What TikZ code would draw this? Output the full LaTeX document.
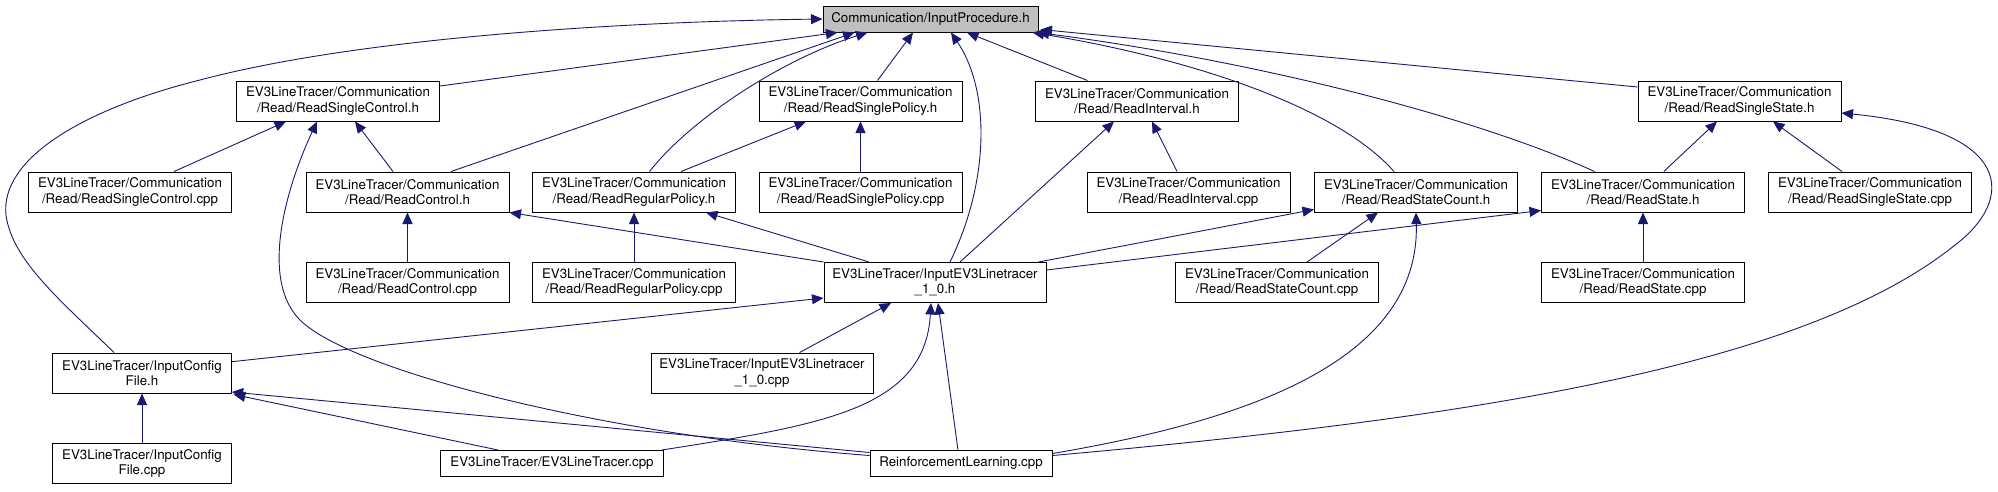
\documentclass[tikz,border=0pt]{standalone}
\usepackage{fontspec}
\setmainfont{TeX Gyre Heros}
\usetikzlibrary{arrows.meta,calc}
\definecolor{edgec}{HTML}{191970}
\definecolor{hl}{HTML}{BFBFBF}
\tikzset{
 box/.style={draw=black,fill=white,line width=1pt,inner sep=0pt,align=center,
   font=\fontsize{13.33}{15.6}\selectfont,minimum height=40pt,minimum width=203pt},
 one/.style={minimum height=26pt},
 edge/.style={draw=edgec,line width=0.9pt,-{Triangle[length=11.5pt,width=10pt]}}
}
\begin{document}
\begin{tikzpicture}[x=1pt,y=-1pt]
\useasboundingbox (0,0) rectangle (1998,491);
% nodes
\node[box,one,minimum width=215pt,fill=hl] (IP) at (930.5,19) {Communication/InputProcedure.h};
\node[box] (RSCh) at (338,101) {EV3LineTracer/Communication\\/Read/ReadSingleControl.h};
\node[box] (RSPh) at (860.5,101) {EV3LineTracer/Communication\\/Read/ReadSinglePolicy.h};
\node[box] (RIh) at (1137,101) {EV3LineTracer/Communication\\/Read/ReadInterval.h};
\node[box] (RSSh) at (1739.5,101) {EV3LineTracer/Communication\\/Read/ReadSingleState.h};
\node[box] (RSCcpp) at (130,192) {EV3LineTracer/Communication\\/Read/ReadSingleControl.cpp};
\node[box] (RCh) at (407.5,192) {EV3LineTracer/Communication\\/Read/ReadControl.h};
\node[box] (RRPh) at (634,192) {EV3LineTracer/Communication\\/Read/ReadRegularPolicy.h};
\node[box] (RSPcpp) at (860.5,192) {EV3LineTracer/Communication\\/Read/ReadSinglePolicy.cpp};
\node[box] (RIcpp) at (1188.5,192) {EV3LineTracer/Communication\\/Read/ReadInterval.cpp};
\node[box] (RSCth) at (1416,192) {EV3LineTracer/Communication\\/Read/ReadStateCount.h};
\node[box] (RSh) at (1643,192) {EV3LineTracer/Communication\\/Read/ReadState.h};
\node[box] (RSScpp) at (1870,192) {EV3LineTracer/Communication\\/Read/ReadSingleState.cpp};
\node[box] (RCcpp) at (407.5,282.5) {EV3LineTracer/Communication\\/Read/ReadControl.cpp};
\node[box] (RRPcpp) at (634,282.5) {EV3LineTracer/Communication\\/Read/ReadRegularPolicy.cpp};
\node[box,minimum width=222pt] (IEh) at (935,282.5) {EV3LineTracer/InputEV3Linetracer\\\_1\_0.h};
\node[box] (RSCtcpp) at (1277,282.5) {EV3LineTracer/Communication\\/Read/ReadStateCount.cpp};
\node[box] (RScpp) at (1643,282.5) {EV3LineTracer/Communication\\/Read/ReadState.cpp};
\node[box,minimum width=178.5pt] (ICFh) at (142,373) {EV3LineTracer/InputConfig\\File.h};
\node[box,minimum width=222pt] (IEcpp) at (762,373) {EV3LineTracer/InputEV3Linetracer\\\_1\_0.cpp};
\node[box,minimum width=178.5pt] (ICFcpp) at (142,463.5) {EV3LineTracer/InputConfig\\File.cpp};
\node[box,one,minimum width=223pt] (EV3) at (552,463.5) {EV3LineTracer/EV3LineTracer.cpp};
\node[box,one,minimum width=182pt] (RL) at (961,463.5) {ReinforcementLearning.cpp};
% edges to InputProcedure.h
\draw[edge] ([xshift=-28pt]ICFh.north) .. controls (60,300) and (12,260) .. (6,215)
   .. controls (0,160) and (80,110) .. (200,80) .. controls (350,40) and (600,22) .. (IP.west);
\draw[edge] ([yshift=15pt]RSCh.east) -- ([xshift=-93pt]IP.south);
\draw[edge] ([xshift=43.5pt]RCh.north) -- ([xshift=-76pt]IP.south);
\draw[edge] ([xshift=15.5pt]RRPh.north) .. controls (690,120) and (780,60) .. ([xshift=-63pt]IP.south);
\draw[edge] ([xshift=17pt]RSPh.north) -- ([xshift=-17.5pt]IP.south);
\draw[edge] ([xshift=15pt]IEh.north) .. controls (990,180) and (990,90) .. ([xshift=20.5pt]IP.south);
\draw[edge] ([xshift=-49.5pt]RIh.north) -- ([xshift=36.5pt]IP.south);
\draw[edge] ([xshift=-22pt]RSCth.north) .. controls (1340,110) and (1200,60) .. ([xshift=-6pt]IP.south east);
\draw[edge] ([xshift=-48.4pt]RSh.north) .. controls (1470,115) and (1250,60) .. ([xshift=-1pt]IP.south east);
\draw[edge] ([yshift=14pt]RSSh.west) -- ([xshift=2pt,yshift=3pt]IP.south east);
% ReadSingleControl.h
\draw[edge] ([xshift=44pt]RSCcpp.north) -- ([xshift=-52pt]RSCh.south);
\draw[edge] ([xshift=-14.5pt]RCh.north) -- ([xshift=17pt]RSCh.south);
\draw[edge] ([yshift=8pt]RL.west) .. controls (600,435) and (350,370) .. (300,320)
   .. controls (260,280) and (285,190) .. ([xshift=-21pt]RSCh.south);
% ReadControl.h
\draw[edge] (RCcpp.north) -- (RCh.south);
\draw[edge] (IEh.north west) -- (RCh.south east);
% ReadRegularPolicy.h
\draw[edge] (RRPcpp.north) -- (RRPh.south);
\draw[edge] ([xshift=-66pt]IEh.north) -- ([xshift=72pt]RRPh.south);
% ReadSinglePolicy.h
\draw[edge] (RSPcpp.north) -- (RSPh.south);
\draw[edge] ([xshift=47pt]RRPh.north) -- ([xshift=-54.5pt]RSPh.south);
% ReadInterval.h
\draw[edge] ([xshift=-11.5pt]RIcpp.north) -- ([xshift=15pt]RIh.south);
\draw[edge] ([xshift=25pt]IEh.north) -- ([xshift=-23pt]RIh.south);
% ReadStateCount.h
\draw[edge] ([xshift=-8pt]IEh.north east) -- ([yshift=3pt]RSCth.south west);
\draw[edge] ([xshift=30pt]RSCtcpp.north) -- ([xshift=-38pt]RSCth.south);
\draw[edge] ([yshift=10pt]RL.east) .. controls (1250,420) and (1420,360) .. (RSCth.south);
% ReadState.h
\draw[edge] ([yshift=12.5pt]IEh.east) -- ([yshift=2pt]RSh.south west);
\draw[edge] (RScpp.north) -- (RSh.south);
% ReadSingleState.h
\draw[edge] ([xshift=20.8pt]RSh.north) -- ([xshift=-22.5pt]RSSh.south);
\draw[edge] ([xshift=-28pt]RSScpp.north) -- ([xshift=33.5pt]RSSh.south);
\draw[edge] ([yshift=8pt]RL.east) .. controls (1450,420) and (1800,370) .. (1955,245)
   .. controls (2015,200) and (2015,130) .. ([yshift=-12pt]RSSh.east);
% InputEV3Linetracer_1_0.h
\draw[edge] ([xshift=37.6pt]IEcpp.north) -- ([xshift=-44pt]IEh.south);
\draw[edge] ([yshift=11.3pt]ICFh.east) -- ([yshift=-15.5pt]IEh.west);
\draw[edge] ([xshift=-2pt]EV3.north east) .. controls (820,425) and (925,410) .. ([xshift=-4pt]IEh.south);
\draw[edge] ([xshift=-3pt]RL.north) -- ([xshift=3pt]IEh.south);
% InputConfigFile.h
\draw[edge] (ICFcpp.north) -- (ICFh.south);
\draw[edge] ([xshift=-54pt]EV3.north) -- ([xshift=2pt,yshift=-1pt]ICFh.south east);
\draw[edge] ([yshift=11pt]RL.west) -- ([yshift=1.5pt]ICFh.south east);
\end{tikzpicture}
\end{document}
